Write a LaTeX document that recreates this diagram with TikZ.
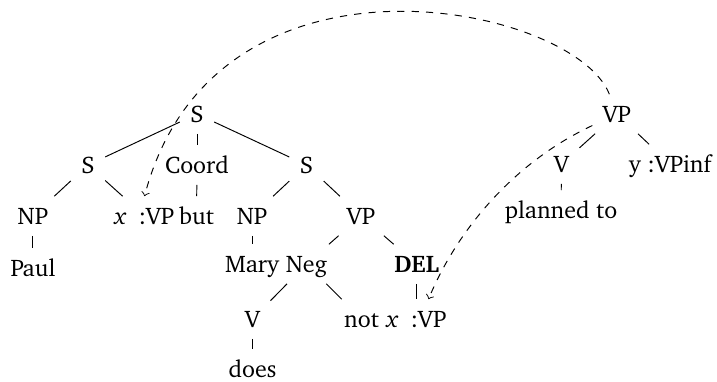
\documentclass[tikz,border=0pt]{standalone}
\usepackage[T1]{fontenc}
\usepackage{charter}
\begin{document}
\begin{tikzpicture}[cat/.style={inner xsep=4.2pt,inner ysep=2.7pt,text height=8.7pt,text depth=2pt},
   move/.style={dashed,->}]
   \useasboundingbox (0,0) rectangle (10.504,-5.582);
   % first conjunct and coordination
   \node[cat] (rootS) at (2.886,-1.670) {S};
   \node[cat] (Sa)    at (1.289,-2.417) {S};
   \node[cat] (coord) at (2.886,-2.417) {Coord};
   \node[cat] (Sb)    at (4.490,-2.417) {S};
   \node[cat] (NPa)   at (0.483,-3.164) {NP};
   \node[cat] (xVPa)  at (2.117,-3.164) {\textit{x}\enspace:VP};
   \node[cat] (but)   at (2.879,-3.164) {but};
   \node[cat] (paul)  at (0.483,-3.926) {Paul};
   % second conjunct
   \node[cat] (NPb)   at (3.692,-3.164) {NP};
   \node[cat] (VPa)   at (5.289,-3.164) {VP};
   \node[cat] (mary)  at (3.692,-3.868) {Mary};
   \node[cat] (neg)   at (4.490,-3.868) {Neg};
   \node[cat] (del)   at (6.102,-3.868) {\textbf{DEL}};
   \node[cat] (Vb)    at (3.699,-4.673) {V};
   \node[cat] (not)   at (5.296,-4.673) {not};
   \node[cat] (xVPb)  at (6.102,-4.673) {\textit{x}\enspace:VP};
   \node[cat] (does)  at (3.699,-5.406) {does};
   % antecedent
   \node[cat] (VPr)     at (9.039,-1.670) {VP};
   \node[cat] (Vr)      at (8.226,-2.403) {V};
   \node[cat] (yVP)     at (9.816,-2.403) {y :VPinf};
   \node[cat] (planned) at (8.219,-3.077) {planned to};
   \draw (rootS) -- (Sa);
   \draw (rootS) -- (coord);
   \draw (rootS) -- (Sb);
   \draw (Sa) -- (NPa);
   \draw (Sa) -- (xVPa);
   \draw (NPa) -- (paul);
   \draw (coord) -- (but);
   \draw (Sb) -- (NPb);
   \draw (Sb) -- (VPa);
   \draw (NPb) -- (mary);
   \draw (VPa) -- (neg);
   \draw (VPa) -- (del);
   \draw (neg) -- (Vb);
   \draw (neg) -- (not);
   \draw (Vb) -- (does);
   \draw (del) -- (xVPb);
   \draw (VPr) -- (Vr);
   \draw (VPr) -- (yVP);
   \draw (Vr) -- (planned);
   % links
   \draw[move] (VPr) .. controls +(-0.62,1.60) and +(1.03,3.91) .. (xVPa.north);
   \draw[move] (VPr) .. controls +(-1.56,-0.73) and +(0.39,0.95) .. ([xshift=5pt]xVPb.north);
\end{tikzpicture}
\end{document}
